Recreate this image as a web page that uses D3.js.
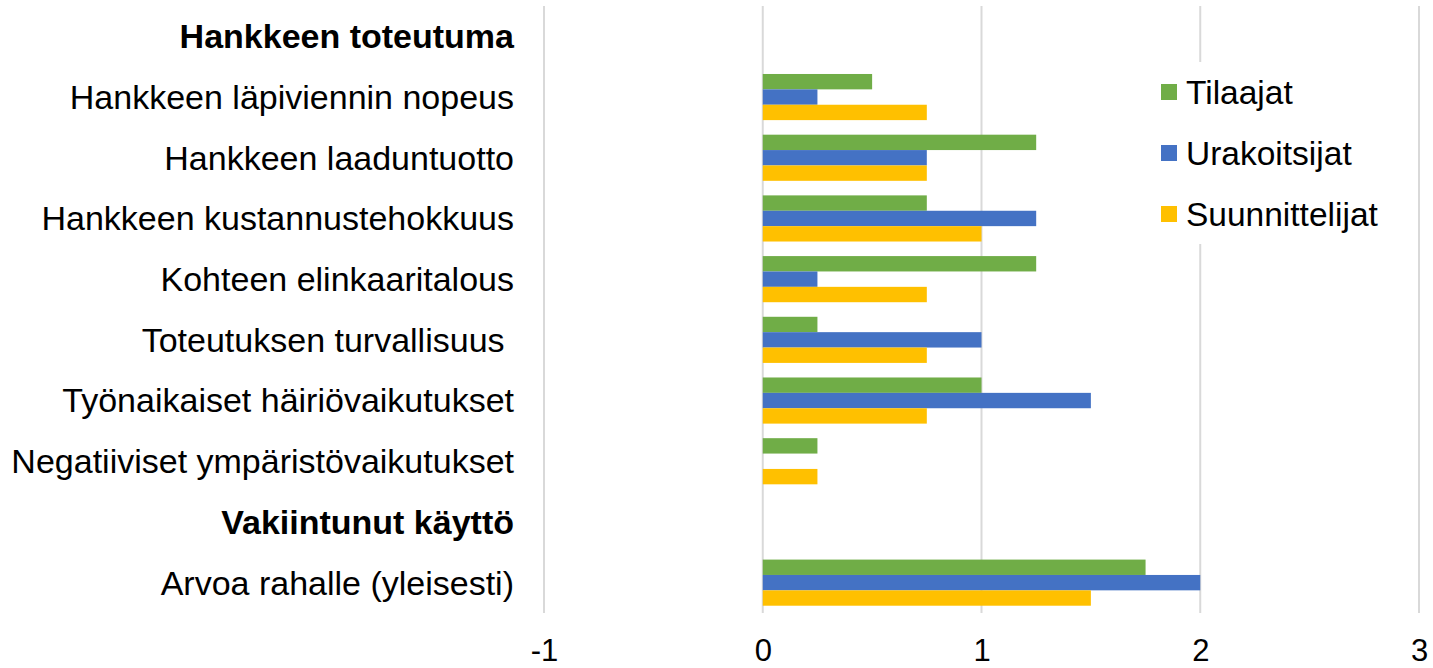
<!DOCTYPE html>
<html>
<head>
<meta charset="utf-8">
<script src="https://cdn.jsdelivr.net/npm/d3@7"></script>
<style>
  html, body { margin: 0; padding: 0; background: #fff; }
  svg { display: block; font-family: "Liberation Sans", Arial, sans-serif; }
</style>
</head>
<body>
<svg id="chart" width="1433" height="668"></svg>
<script>
// categories top to bottom; headers are bold and have no bars
const categories = [
  "Hankkeen toteutuma",
  "Hankkeen läpiviennin nopeus",
  "Hankkeen laaduntuotto",
  "Hankkeen kustannustehokkuus",
  "Kohteen elinkaaritalous",
  "Toteutuksen turvallisuus ",
  "Työnaikaiset häiriövaikutukset",
  "Negatiiviset ympäristövaikutukset",
  "Vakiintunut käyttö",
  "Arvoa rahalle (yleisesti)"
];
const headers = ["Hankkeen toteutuma", "Vakiintunut käyttö"];

const seriesNames = ["Tilaajat", "Urakoitsijat", "Suunnittelijat"];
const seriesColors = ["#70AD47", "#4472C4", "#FFC000"];

const tilaajat       = [null, 0.5, 1.25, 0.75, 1.25, 0.25, 1.0, 0.25, null, 1.75];
const urakoitsijat   = [null, 0.25, 0.75, 1.25, 0.25, 1.0, 1.5, 0, null, 2.0];
const suunnittelijat = [null, 0.75, 0.75, 1.0, 0.75, 0.75, 0.75, 0.25, null, 1.5];
const seriesValues = [tilaajat, urakoitsijat, suunnittelijat];

const xTicks = [-1, 0, 1, 2, 3];
const xTickLabels = ["-1", "0", "1", "2", "3"];

const svg = d3.select("#chart");
const margin = {top: 6, left: 544, right: 14, bottom: 55};
const width = 1433, height = 668;

const x = d3.scaleLinear().domain([-1, 3]).range([margin.left, width - margin.right]);
const y = d3.scaleBand().domain(categories)
  .range([margin.top, height - margin.bottom])
  .paddingInner(0.24).paddingOuter(0.12);
const ySub = d3.scaleBand().domain(seriesNames).range([0, y.bandwidth()]);

// gridlines
svg.append("g")
  .selectAll("line")
  .data(xTicks)
  .join("line")
  .attr("x1", d => x(d)).attr("x2", d => x(d))
  .attr("y1", margin.top).attr("y2", height - margin.bottom)
  .attr("stroke", "#d9d9d9")
  .attr("stroke-width", 2);

// bars
seriesNames.forEach((name, si) => {
  const rows = categories.map((c, i) => ({c, v: seriesValues[si][i]})).filter(d => d.v !== null);
  svg.append("g")
    .selectAll("rect")
    .data(rows)
    .join("rect")
    .attr("x", d => x(Math.min(0, d.v)))
    .attr("width", d => Math.abs(x(d.v) - x(0)))
    .attr("y", d => y(d.c) + ySub(name))
    .attr("height", ySub.bandwidth())
    .attr("fill", seriesColors[si]);
});

// category labels
svg.append("g")
  .selectAll("text")
  .data(categories)
  .join("text")
  .attr("x", margin.left - 30)
  .attr("y", d => y(d) + y.bandwidth() / 2)
  .attr("dy", "0.35em")
  .attr("text-anchor", "end")
  .attr("font-size", 34)
  .attr("font-weight", d => headers.includes(d) ? "bold" : "normal")
  .attr("fill", "#000")
  .style("white-space", "pre")
  .text(d => d);

// x axis tick labels
const xAxis = d3.axisBottom(x).tickValues(xTicks)
  .tickFormat((d, i) => xTickLabels[i]).tickSize(0).tickPadding(0);
const gx = svg.append("g")
  .attr("transform", "translate(0," + (height - margin.bottom) + ")")
  .call(xAxis);
gx.select(".domain").remove();
gx.selectAll("text")
  .attr("y", 37)
  .attr("dy", "0.35em")
  .attr("font-size", 31)
  .attr("font-family", "Liberation Sans, Arial, sans-serif")
  .attr("fill", "#000");

// legend
const legend = svg.append("g");
legend.append("rect")
  .attr("x", 1150).attr("y", 62)
  .attr("width", 250).attr("height", 182)
  .attr("fill", "#fff");
seriesNames.forEach((name, i) => {
  const cy = 92 + i * 61;
  legend.append("rect")
    .attr("x", 1161).attr("y", cy - 8)
    .attr("width", 16).attr("height", 16)
    .attr("fill", seriesColors[i]);
  legend.append("text")
    .attr("x", 1186).attr("y", cy)
    .attr("dy", "0.35em")
    .attr("font-size", 33.5)
    .attr("fill", "#000")
    .text(name);
});
</script>
</body>
</html>
